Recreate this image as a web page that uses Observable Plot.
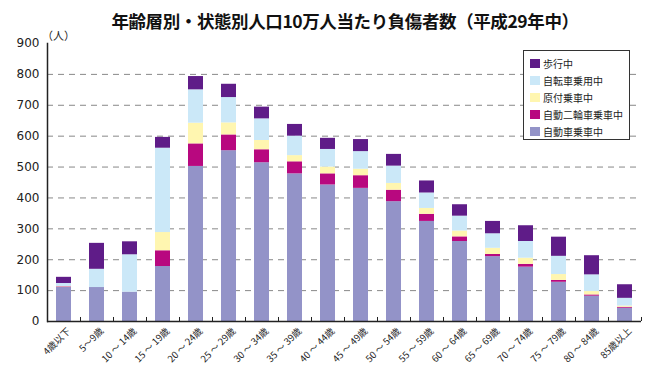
<!DOCTYPE html>
<html>
<head>
<meta charset="utf-8">
<script src="https://cdn.jsdelivr.net/npm/d3@7"></script>
<script src="https://cdn.jsdelivr.net/npm/@observablehq/plot@0.6"></script>
<style>
  html, body { margin: 0; padding: 0; background: #fff; }
  #wrap { position: relative; width: 650px; height: 374px; overflow: hidden; font-family: "Noto Sans CJK JP", "Noto Sans", sans-serif; }
  #title { position: absolute; top: 8px; left: 0; width: 650px; padding-left: 40px; box-sizing: border-box; text-align: center; font-size: 17.5px; font-weight: bold; color: #111; white-space: nowrap; letter-spacing: -0.4px; }
  #unit { position: absolute; top: 27px; left: 42px; font-size: 11px; color: #222; }
  #chart { position: absolute; top: 0; left: 0; }
  #legend { position: absolute; left: 523px; top: 50px; width: 107px; height: 90px; border: 1px solid #333; background: #fff; box-sizing: border-box; padding: 4px 0 0 6px; }
  .item { display: flex; align-items: center; height: 17px; font-size: 10px; color: #222; white-space: nowrap; }
  .sw { width: 10px; height: 9px; margin-right: 3px; flex: none; }
</style>
</head>
<body>
<div id="wrap">
  <div id="chart"></div>
  <div id="title"></div>
  <div id="unit"></div>
  <div id="legend"></div>
</div>
<script>
const titleText = "年齢層別・状態別人口10万人当たり負傷者数（平成29年中）";
const unitText = "（人）";
const ages = ["4歳以下","5～9歳","10 ～ 14歳","15 ～ 19歳","20 ～ 24歳","25 ～ 29歳","30 ～ 34歳","35 ～ 39歳","40 ～ 44歳","45 ～ 49歳","50 ～ 54歳","55 ～ 59歳","60 ～ 64歳","65 ～ 69歳","70 ～ 74歳","75 ～ 79歳","80 ～ 84歳","85歳以上"];
const seriesNames = ["自動車乗車中","自動二輪車乗車中","原付乗車中","自転車乗用中","歩行中"];
const seriesColors = ["#9393c8","#b8087f","#fff6b0","#cbe8f8","#5f1c88"];
const car   = [110,110,95,178,502,553,514,478,442,431,388,324,259,210,176,127,82,43];
const moto  = [2,0,0,51,73,51,42,39,36,41,37,23,15,7,9,6,4,3];
const moped = [1,0,0,59,67,39,30,20,22,21,22,19,19,20,20,19,11,4];
const bike  = [10,59,121,273,108,82,70,63,57,57,56,50,48,47,54,59,54,25];
const walk  = [20,84,42,35,43,43,38,38,36,39,38,39,37,40,51,62,62,44];
const yTicks = [0,100,200,300,400,500,600,700,800,900];
const gridTicks = [100,200,300,400,500,600,700,800];

const seriesValues = [car, moto, moped, bike, walk];
const data = [];
seriesNames.forEach((s, i) => {
  ages.forEach((a, j) => data.push({age: a, series: s, value: seriesValues[i][j]}));
});

document.getElementById("title").textContent = titleText;
document.getElementById("unit").textContent = unitText;

const chart = Plot.plot({
  width: 650,
  height: 374,
  marginTop: 43,
  marginBottom: 53,
  marginLeft: 47,
  marginRight: 9,
  style: {fontFamily: "'DejaVu Sans', sans-serif", background: "transparent"},
  x: {domain: ages, paddingInner: 0.56, paddingOuter: 0.28, label: null},
  y: {domain: [0, 900], label: null},
  color: {domain: seriesNames, range: seriesColors},
  marks: [
    Plot.gridY(gridTicks, {stroke: "#888", strokeOpacity: 1, strokeDasharray: "6,5", strokeWidth: 1}),
    Plot.barY(data, {x: "age", y: "value", fill: "series", order: seriesNames}),
    Plot.ruleX(ages, {x: d => d, y1: 0, y2: 13, dx: 16.5, stroke: "#222", strokeWidth: 1}),
    Plot.ruleY([0], {stroke: "#222", strokeWidth: 1.5}),
    Plot.frame({anchor: "left", stroke: "#222", strokeWidth: 1.5}),
    Plot.axisY({ticks: yTicks, tickSize: 0, tickPadding: 8, fontSize: 12, tickFormat: d => String(d), fill: "#222"}),
    Plot.axisX({tickSize: 0, tickRotate: -45, tickPadding: 8, fontSize: 9.5, fill: "#222", dx: 5, fontFamily: "'Noto Sans CJK JP', sans-serif"})
  ]
});
document.getElementById("chart").appendChild(chart);

const legend = document.getElementById("legend");
for (let i = seriesNames.length - 1; i >= 0; i--) {
  const row = document.createElement("div");
  row.className = "item";
  const sw = document.createElement("span");
  sw.className = "sw";
  sw.style.background = seriesColors[i];
  const t = document.createElement("span");
  t.textContent = seriesNames[i];
  row.appendChild(sw);
  row.appendChild(t);
  legend.appendChild(row);
}
</script>
</body>
</html>
